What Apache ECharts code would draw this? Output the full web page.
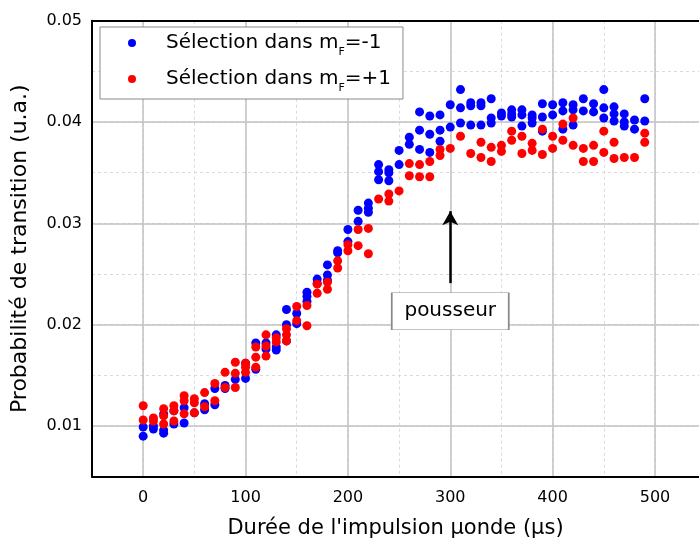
<!DOCTYPE html>
<html><head><meta charset="utf-8">
<script src="https://cdn.jsdelivr.net/npm/echarts@6/dist/echarts.min.js"></script>
<style>html,body{margin:0;padding:0;background:#fff}#c{width:699px;height:542px}</style>
</head><body><div id="c"></div>
<script>
// Data: [duration (µs), probability]
const blueData = [
[0,0.0099],[0,0.0090],[10,0.0100],[10,0.0097],[20,0.0112],[20,0.0096],[20,0.0093],[30,0.0115],[30,0.0102],
[40,0.0118],[40,0.0103],[50,0.0113],[60,0.0122],[60,0.0116],[70,0.0137],[70,0.0121],[80,0.0140],[80,0.0137],
[90,0.0146],[100,0.0162],[100,0.0147],[110,0.0182],[110,0.0156],[120,0.0182],[120,0.0176],[130,0.0190],[130,0.0178],[130,0.0175],
[140,0.0215],[140,0.0200],[140,0.0184],[150,0.0211],[150,0.0201],[160,0.0232],[160,0.0228],[160,0.0223],[170,0.0245],[170,0.0241],
[180,0.0259],[180,0.0249],[180,0.0244],[190,0.0273],[190,0.0271],[200,0.0294],[200,0.0282],[210,0.0313],[210,0.0302],
[220,0.0320],[220,0.0315],[220,0.0311],[230,0.0358],[230,0.0351],[230,0.0343],[240,0.0353],[240,0.0350],[240,0.0342],
[250,0.0372],[250,0.0358],[260,0.0385],[260,0.0378],[270,0.0410],[270,0.0392],[270,0.0373],[280,0.0406],[280,0.0388],[280,0.0370],
[290,0.0407],[290,0.0392],[290,0.0381],[300,0.0417],[300,0.0395],[310,0.0432],[310,0.0414],[310,0.0399],[320,0.0419],[320,0.0416],[320,0.0397],
[330,0.0419],[330,0.0416],[330,0.0397],[340,0.0423],[340,0.0404],[340,0.0399],[350,0.0409],[350,0.0406],[360,0.0412],[360,0.0408],[360,0.0405],
[370,0.0412],[370,0.0407],[370,0.0396],[380,0.0407],[380,0.0404],[380,0.0399],[390,0.0418],[390,0.0405],[390,0.0391],[400,0.0417],[400,0.0407],
[410,0.0419],[410,0.0411],[410,0.0393],[420,0.0417],[420,0.0412],[420,0.0397],[430,0.0423],[430,0.0411],[440,0.0418],[440,0.0410],
[450,0.0432],[450,0.0414],[450,0.0404],[460,0.0415],[460,0.0408],[460,0.0401],[470,0.0408],[470,0.0400],[470,0.0396],[480,0.0402],[480,0.0393],
[490,0.0423],[490,0.0401]
];
const redData = [
[0,0.0120],[0,0.0106],[10,0.0108],[10,0.0105],[20,0.0117],[20,0.0110],[20,0.0102],[30,0.0120],[30,0.0115],[30,0.0105],
[40,0.0130],[40,0.0125],[40,0.0112],[50,0.0127],[50,0.0123],[50,0.0113],[60,0.0133],[60,0.0119],[70,0.0142],[70,0.0125],
[80,0.0153],[80,0.0138],[90,0.0163],[90,0.0152],[90,0.0138],[100,0.0162],[100,0.0158],[100,0.0153],[110,0.0178],[110,0.0168],[110,0.0158],
[120,0.0190],[120,0.0179],[120,0.0169],[130,0.0187],[130,0.0183],[140,0.0196],[140,0.0190],[140,0.0184],[150,0.0218],[150,0.0204],
[160,0.0219],[160,0.0199],[170,0.0240],[170,0.0231],[180,0.0242],[180,0.0235],[190,0.0263],[190,0.0256],[200,0.0279],[200,0.0273],
[210,0.0294],[210,0.0278],[220,0.0295],[220,0.0270],[230,0.0324],[240,0.0329],[240,0.0322],[250,0.0332],[260,0.0359],[260,0.0347],
[270,0.0358],[270,0.0346],[280,0.0361],[280,0.0346],[290,0.0373],[290,0.0367],[300,0.0374],[310,0.0386],[320,0.0369],[330,0.0380],[330,0.0365],
[340,0.0375],[340,0.0361],[350,0.0377],[350,0.0371],[360,0.0391],[360,0.0382],[370,0.0386],[370,0.0369],[380,0.0379],[380,0.0372],
[390,0.0393],[390,0.0368],[400,0.0386],[400,0.0374],[410,0.0398],[410,0.0382],[420,0.0404],[420,0.0377],[430,0.0374],[430,0.0361],
[440,0.0377],[440,0.0361],[450,0.0391],[450,0.0370],[460,0.0380],[460,0.0364],[470,0.0365],[480,0.0365],[490,0.0389],[490,0.0380]
];
const seriesNames = ['blue', 'red'];
const xTicks = [0, 100, 200, 300, 400, 500];
const yTicks = [0.01, 0.02, 0.03, 0.04, 0.05];
// annotation (data units)
const arrowFrom = [300, 0.0241];
const arrowTo = [300, 0.0312];
const boxAt = [300, 0.02133];
const boxText = 'pousseur';

const chart = echarts.init(document.getElementById('c'), null, {renderer: 'canvas'});
const FONT = 'DejaVu Sans';
const SOLID = '#c2c2c2', DASH = '#dadada';
function fmtLegend(name) {
  return name === 'blue' ? '{g|}{a|Sélection dans m}{s|F}{a|=-1}' : '{g|}{a|Sélection dans m}{s|F}{a|=+1}';
}
const frame = {show: true, onZero: false, lineStyle: {color: '#000', width: 2}};
const option = {
  animation: false,
  backgroundColor: '#fff',
  grid: {left: 92, right: 0, top: 20.7, bottom: 65.3, show: false, containLabel: false, outerBoundsMode: 'none'},
  legend: {
    data: seriesNames, orient: 'vertical', left: 100, top: 27,
    padding: [6, 12, 5, 28], itemGap: 11, itemWidth: 8, itemHeight: 8,
    borderColor: '#8a8a8a', borderWidth: 1, backgroundColor: '#fff',
    formatter: fmtLegend,
    textStyle: {
      fontFamily: FONT, color: '#000', fontSize: 20,
      rich: {
        g: {width: 25},
        a: {fontFamily: FONT, fontSize: 20, lineHeight: 24, color: '#000'},
        s: {fontFamily: FONT, fontSize: 11, lineHeight: 30, color: '#000', verticalAlign: 'bottom'}
      }
    }
  },
  xAxis: [{
    type: 'value', min: -50, max: 543, interval: 50, position: 'bottom',
    name: "Durée de l'impulsion µonde (µs)", nameLocation: 'middle', nameGap: 41,
    nameTextStyle: {fontFamily: FONT, fontSize: 21, color: '#000'},
    axisLine: frame, axisTick: {show: false},
    axisLabel: {fontFamily: FONT, fontSize: 16, color: '#000', margin: 13,
      formatter: v => xTicks.indexOf(Math.round(v)) >= 0 && Math.abs(v - Math.round(v)) < 1e-6 ? String(Math.round(v)) : ''},
    splitLine: {show: true, showMinLine: false, showMaxLine: false, lineStyle: {color: DASH, type: [3, 3], width: 1}}
  }, {
    type: 'value', min: -50, max: 543, interval: 50, position: 'top',
    axisLine: frame, axisTick: {show: false}, axisLabel: {show: false},
    splitLine: {show: true, showMinLine: false, showMaxLine: false, lineStyle: {color: [SOLID, 'transparent'], type: 'solid', width: 1.5}}
  }],
  yAxis: [{
    type: 'value', min: 0.005, max: 0.05, interval: 0.005, position: 'left',
    name: 'Probabilité de transition (u.a.)', nameLocation: 'middle', nameGap: 61,
    nameTextStyle: {fontFamily: FONT, fontSize: 22, color: '#000'},
    axisLine: frame, axisTick: {show: false},
    axisLabel: {fontFamily: FONT, fontSize: 16, color: '#000', margin: 10,
      formatter: v => { const r = Math.round(v * 100) / 100; return (Math.abs(v - r) < 1e-7 && yTicks.indexOf(r) >= 0) ? r.toFixed(2) : ''; }},
    splitLine: {show: true, showMinLine: false, showMaxLine: false, lineStyle: {color: DASH, type: [3, 3], width: 1}}
  }, {
    type: 'value', min: 0.005, max: 0.05, interval: 0.005, position: 'left',
    axisLine: {show: false}, axisTick: {show: false}, axisLabel: {show: false},
    splitLine: {show: true, showMinLine: false, showMaxLine: false, lineStyle: {color: [SOLID, 'transparent'], type: 'solid', width: 1.5}}
  }],
  series: [{
    name: 'blue', type: 'scatter', data: blueData, symbol: 'circle', symbolSize: 9,
    itemStyle: {color: '#0000ff', opacity: 1}, z: 3
  }, {
    name: 'red', type: 'scatter', data: redData, symbol: 'circle', symbolSize: 9,
    itemStyle: {color: '#ff0000', opacity: 1}, z: 4,
    markLine: {
      silent: true, symbol: ['none', 'arrow'], symbolSize: [12, 14],
      lineStyle: {color: '#000', width: 2.5, type: 'solid'},
      label: {show: false},
      data: [[{coord: arrowFrom}, {coord: arrowTo}]]
    },
    markPoint: {
      silent: true,
      data: [{coord: boxAt, symbol: 'rect', symbolSize: [117, 37],
        itemStyle: {color: '#fff', borderColor: '#8a8a8a', borderWidth: 1},
        label: {show: true, position: 'inside', formatter: boxText, fontFamily: FONT, fontSize: 20, color: '#000'}}]
    }
  }]
};
chart.setOption(option);
</script></body></html>
